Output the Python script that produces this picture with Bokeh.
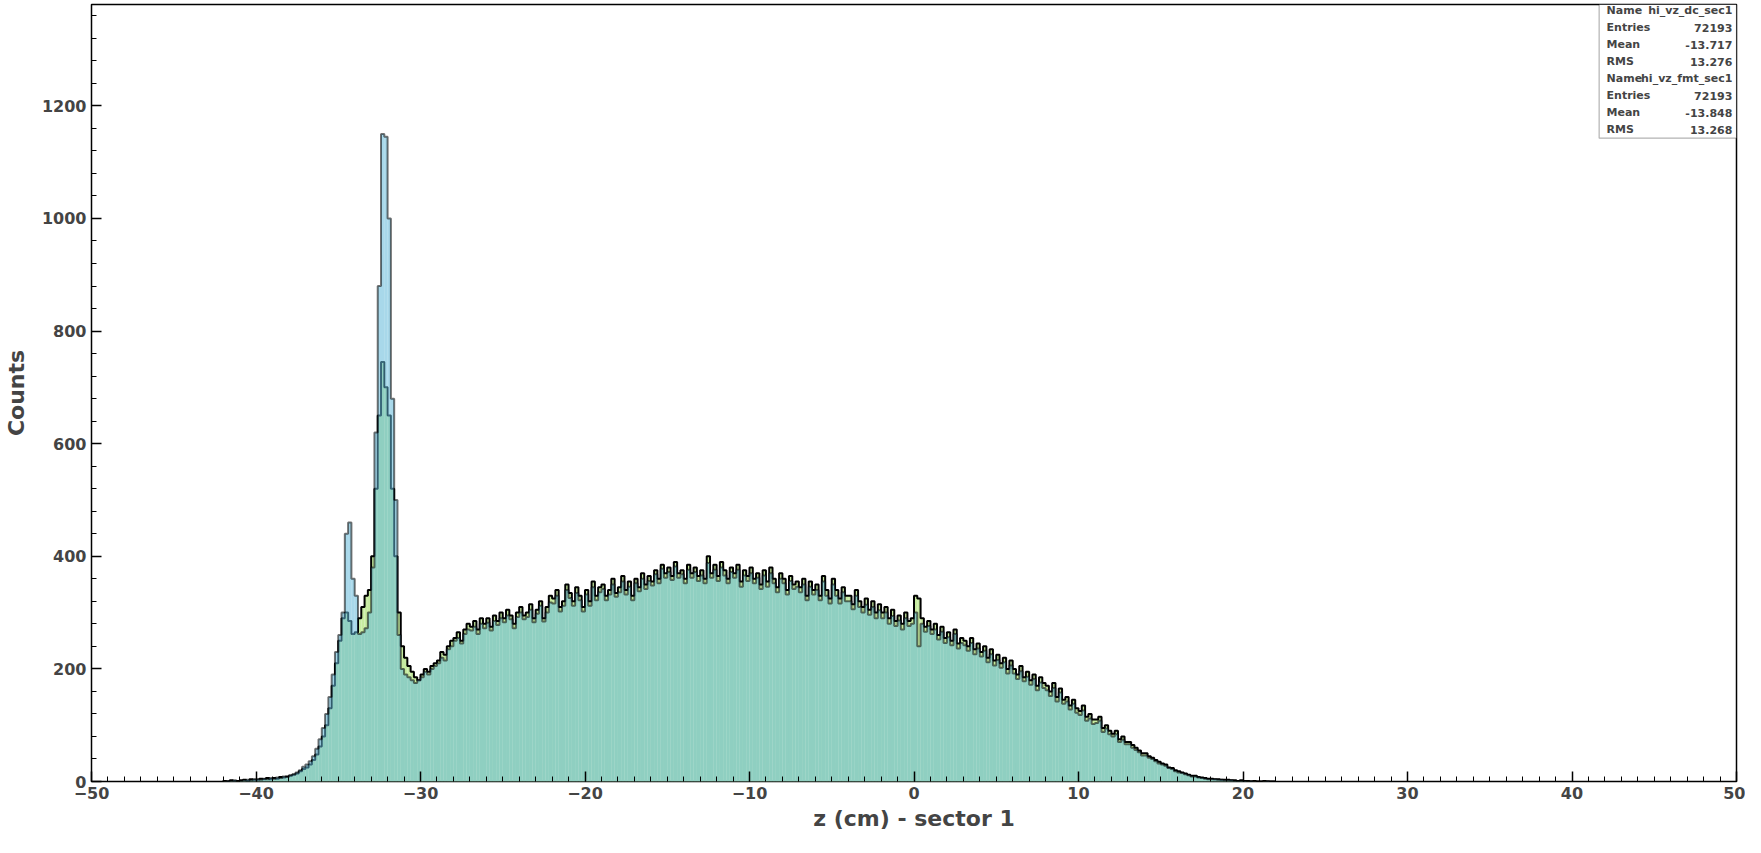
import numpy as np
from bokeh.plotting import figure
from bokeh.models import Range1d, Label, BoxAnnotation, SingleIntervalTicker, ColumnDataSource
from bokeh.embed import file_html
from bokeh.resources import INLINE

# histogram binning (cm)
Z_START = -42.0
BIN = 0.2

# hi_vz_fmt_sec1, 5 bins per row (1 cm)
counts_fmt = [
    1, 0, 2, 1, 1,   2, 3, 1, 4, 3,   3, 5, 4, 6, 4,   6, 5, 8, 7, 9,
    10, 12, 14, 18, 22,   25, 30, 38, 48, 62,   80, 100, 130, 170, 210,   250, 290, 300, 285, 262,
    265, 290, 310, 330, 340,   400, 520, 650, 745, 700,   650, 520, 400, 300, 240,   220, 205, 195, 185, 180,
    190, 200, 195, 205, 210,   215, 230, 225, 240, 250,   255, 265, 250, 270, 280,   275, 285, 270, 290, 280,
    290, 275, 295, 285, 300,   290, 305, 295, 280, 300,   310, 295, 300, 315, 290,   305, 320, 290, 310, 330,
    325, 340, 310, 320, 350,   335, 320, 345, 330, 310,   340, 320, 355, 330, 345,   350, 330, 340, 360, 335,
    345, 365, 340, 355, 330,   360, 345, 370, 350, 365,   355, 375, 360, 385, 370,   380, 365, 390, 370, 375,
    360, 385, 370, 380, 365,   375, 360, 400, 370, 385,   365, 390, 375, 360, 380,   370, 385, 355, 375, 365,
    380, 360, 370, 350, 375,   355, 380, 360, 345, 370,   360, 340, 365, 350, 355,   345, 360, 330, 355, 340,
    350, 330, 365, 340, 325,   360, 340, 325, 345, 330,   330, 315, 340, 320, 310,   325, 305, 320, 300, 315,
    300, 310, 290, 305, 285,   295, 280, 300, 285, 290,   330, 325, 290, 275, 285,   270, 280, 260, 275, 255,
    265, 250, 270, 245, 255,   250, 240, 255, 235, 245,   230, 240, 220, 235, 215,   225, 210, 220, 200, 215,
    200, 190, 205, 185, 195,   180, 190, 170, 185, 175,   170, 160, 175, 150, 165,   145, 150, 135, 145, 130,
    125, 135, 115, 120, 110,   110, 115, 95, 100, 90,   85, 90, 75, 80, 70,   70, 65, 60, 55, 50,
    50, 45, 42, 38, 35,   32, 30, 25, 24, 20,   18, 16, 14, 12, 10,   10, 8, 7, 6, 5,
    5, 4, 4, 3, 3,   3, 2, 2, 1, 2,   1, 1, 0, 1, 0,   0, 1, 0, 0, 0,
]

# hi_vz_dc_sec1
counts_dc = [
    0, 1, 1, 2, 0,   1, 2, 3, 2, 4,   4, 3, 5, 4, 6,   5, 7, 6, 9, 8,
    11, 13, 16, 20, 26,   30, 36, 45, 58, 75,   95, 120, 150, 190, 230,   260, 300, 440, 460, 360,
    330, 262, 265, 272, 300,   380, 620, 880, 1150, 1145,   1000, 680, 500, 260, 200,   190, 185, 180, 175, 180,
    185, 195, 190, 200, 205,   210, 220, 215, 235, 240,   250, 255, 245, 262, 270,   268, 275, 262, 280, 272,
    282, 268, 285, 278, 290,   283, 295, 288, 272, 292,   300, 288, 292, 305, 283,   298, 312, 284, 300, 318,
    316, 330, 302, 312, 340,   326, 312, 335, 322, 302,   332, 312, 345, 322, 336,   342, 322, 332, 350, 328,
    336, 355, 332, 346, 322,   352, 338, 360, 342, 356,   348, 368, 352, 378, 362,   372, 358, 382, 362, 368,
    352, 376, 362, 372, 356,   366, 352, 388, 362, 376,   356, 380, 366, 352, 372,   362, 376, 346, 366, 356,
    370, 352, 362, 342, 366,   346, 370, 352, 336, 360,   352, 332, 356, 342, 346,   336, 350, 322, 346, 332,
    340, 322, 355, 330, 316,   350, 330, 316, 336, 320,   320, 306, 330, 310, 300,   314, 296, 310, 290, 304,
    290, 300, 280, 294, 276,   286, 270, 290, 276, 280,   300, 240, 280, 266, 276,   262, 270, 252, 266, 246,
    256, 242, 262, 236, 246,   242, 232, 246, 226, 236,   222, 232, 212, 226, 206,   216, 202, 212, 192, 206,
    192, 182, 196, 178, 186,   172, 182, 162, 176, 166,   162, 152, 166, 142, 158,   138, 142, 128, 138, 122,
    118, 126, 108, 112, 102,   104, 108, 88, 94, 84,   80, 84, 70, 74, 66,   66, 60, 56, 52, 46,
    46, 42, 40, 36, 32,   30, 28, 24, 22, 18,   16, 15, 13, 11, 9,   9, 7, 6, 5, 4,
    4, 4, 3, 3, 2,   2, 2, 1, 1, 1,   1, 0, 1, 0, 0,   0, 0, 1, 0, 0,
]

stats_rows = [
    ("Name", "hi_vz_dc_sec1"), ("Entries", "72193"), ("Mean", "-13.717"), ("RMS", "13.276"),
    ("Name", "hi_vz_fmt_sec1"), ("Entries", "72193"), ("Mean", "-13.848"), ("RMS", "13.268"),
]

FONT = "DejaVu Sans"


def hist_source(counts):
    n = len(counts)
    left = Z_START + BIN * np.arange(n)
    return ColumnDataSource(dict(left=left, right=left + BIN, top=counts, bottom=np.zeros(n)))


def step_xy(counts):
    n = len(counts)
    edges = Z_START + BIN * np.arange(n + 1)
    xs = np.concatenate([[edges[0]], edges])
    ys = np.concatenate([[0], counts, [0]])
    return xs, ys


p = figure(width=1745, height=837, output_backend="svg", toolbar_location=None,
           x_range=Range1d(-50, 50), y_range=Range1d(0, 1380),
           min_border_left=74, min_border_right=9, min_border_top=4, min_border_bottom=56)
p.grid.visible = False
p.outline_line_color = "black"
p.outline_line_width = 1.5
p.background_fill_color = "white"

# fmt histogram first, dc on top with transparency
p.quad(left="left", right="right", top="top", bottom="bottom", source=hist_source(counts_fmt),
       fill_color="#c6eba0", line_color=None)
xs, ys = step_xy(counts_fmt)
p.step(xs, ys, mode="after", line_color="black", line_width=2)

p.quad(left="left", right="right", top="top", bottom="bottom", source=hist_source(counts_dc),
       fill_color="#66bada", fill_alpha=0.57, line_color=None)
xs, ys = step_xy(counts_dc)
p.step(xs, ys, mode="after", line_color="black", line_width=2, line_alpha=0.55)

p.xaxis.ticker = SingleIntervalTicker(interval=10, num_minor_ticks=10)
p.yaxis.ticker = SingleIntervalTicker(interval=200, num_minor_ticks=5)
for ax in (p.xaxis, p.yaxis):
    ax.axis_line_color = None
    ax.major_tick_in = 10
    ax.major_tick_out = 0
    ax.minor_tick_in = 5
    ax.minor_tick_out = 0
    ax.major_tick_line_width = 1.5
    ax.major_label_text_font = FONT
    ax.major_label_text_font_style = "bold"
    ax.major_label_text_font_size = "16px"
    ax.axis_label_text_font = FONT
    ax.axis_label_text_font_style = "bold"
    ax.axis_label_text_font_size = "22px"
p.xaxis.axis_label = "z (cm) - sector 1"
p.yaxis.axis_label = "Counts"
p.xaxis.axis_label_standoff = 4
p.yaxis.axis_label_standoff = 10

# statistics box
box_left, box_right = 41.65, 50
row_h = 30.2
top_y = 1369
p.add_layout(BoxAnnotation(left=box_left, right=box_right, top=1380, bottom=top_y - 7.5 * row_h,
                           fill_color="white", fill_alpha=1, line_color="black", line_width=1.2))
for i, (k, v) in enumerate(stats_rows):
    y = top_y - i * row_h
    p.add_layout(Label(x=42.1, y=y, text=k, text_font=FONT, text_font_style="bold",
                       text_font_size="11px", text_baseline="middle"))
    p.add_layout(Label(x=49.75, y=y, text=v, text_font=FONT, text_font_style="bold",
                       text_font_size="11px", text_baseline="middle", text_align="right"))

open("out.html", "w").write(file_html(p, INLINE))
